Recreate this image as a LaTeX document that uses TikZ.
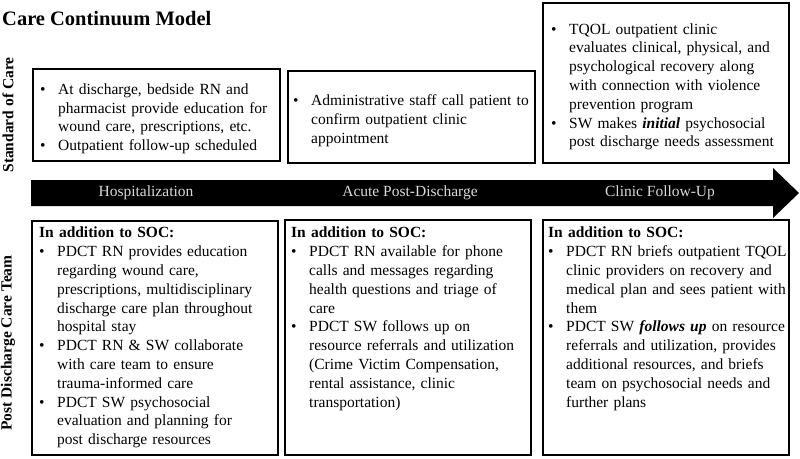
\documentclass[tikz,border=0pt]{standalone}
\usepackage{fontspec}
\setmainfont{Liberation Serif}
\usepackage{tikz}
\usetikzlibrary{positioning}

\newcommand{\bitem}{\par\hangindent=18pt\hangafter=1\noindent\hbox to 18pt{\textbullet\hss}}

\tikzset{
    panel/.style={draw, line width=1.6pt, fill=white, inner sep=0pt},
    itemtext/.style={align=left, text width=250pt, inner sep=0pt,
        font=\fontsize{15.5}{18.8}\selectfont},
    sidelabel/.style={rotate=90, font=\fontsize{15.5}{18}\selectfont\bfseries},
    phase/.style={text=white!85!black, font=\fontsize{15.5}{18}\selectfont}
}

\begin{document}
\begin{tikzpicture}[x=1pt, y=-1pt]

    \useasboundingbox[fill=white] (0,0) rectangle (800,458);

    % Title and row labels
    \node[anchor=base west, inner sep=0pt, font=\fontsize{20.5}{24}\selectfont\bfseries] (title) at (2,25) {Care Continuum Model};
    \node[sidelabel] (socLabel) at (8,115) {Standard of Care};
    \node[sidelabel] (pdctLabel) at (8,343) {Post Discharge Care Team};

    % Timeline arrow
    \fill[black] (31,180) -- (773,180) -- (773,168) -- (799,193)
        -- (773,218) -- (773,206) -- (31,206) -- cycle;
    \node[phase] (hosp) at (146,193) {Hospitalization};
    \node[phase] (acute) at (410,193) {Acute Post-Discharge};
    \node[phase] (clinic) at (660,193) {Clinic Follow-Up};

    % Standard of care
    \node[panel, anchor=north west, minimum width=247pt, minimum height=92pt] (socHosp) at (32,68) {};
    \node[panel, anchor=north west, minimum width=247pt, minimum height=92pt] (socAcute) at (287,70) {};
    \node[panel, anchor=north west, minimum width=246pt, minimum height=160pt] (socClinic) at (542,2) {};

    \node[itemtext, anchor=west] (socHospText) at ([xshift=8pt]socHosp.west) {%
        \bitem At discharge, bedside RN and\newline pharmacist provide education for\newline wound care, prescriptions, etc.
        \bitem Outpatient follow-up scheduled\par};
    \node[itemtext, anchor=west] (socAcuteText) at ([xshift=6pt]socAcute.west) {%
        \bitem Administrative staff call patient to\newline confirm outpatient clinic\newline appointment\par};
    \node[itemtext, anchor=west] (socClinicText) at ([xshift=9pt]socClinic.west) {%
        \bitem TQOL outpatient clinic\newline evaluates clinical, physical, and\newline psychological recovery along\newline with connection with violence\newline prevention program
        \bitem SW makes \textbf{\textit{initial}} psychosocial\newline post discharge needs assessment\par};

    % Post discharge care team
    \node[panel, anchor=north west, minimum width=246pt, minimum height=234pt] (pdctHosp) at (31,220) {};
    \node[panel, anchor=north west, minimum width=246pt, minimum height=235pt] (pdctAcute) at (284,219) {};
    \node[panel, anchor=north west, minimum width=246pt, minimum height=235pt] (pdctClinic) at (542,219) {};

    \node[itemtext, anchor=north west] (pdctHospText) at ([xshift=8pt, yshift=-7pt]pdctHosp.north west) {%
        \textbf{In addition to SOC:}
        \bitem PDCT RN provides education\newline regarding wound care,\newline prescriptions, multidisciplinary\newline discharge care plan throughout\newline hospital stay
        \bitem PDCT RN \& SW collaborate\newline with care team to ensure\newline trauma-informed care
        \bitem PDCT SW psychosocial\newline evaluation and planning for\newline post discharge resources\par};
    \node[itemtext, anchor=north west] (pdctAcuteText) at ([xshift=7pt, yshift=-8pt]pdctAcute.north west) {%
        \textbf{In addition to SOC:}
        \bitem PDCT RN available for phone\newline calls and messages regarding\newline health questions and triage of\newline care
        \bitem PDCT SW follows up on\newline resource referrals and utilization\newline (Crime Victim Compensation,\newline rental assistance, clinic\newline transportation)\par};
    \node[itemtext, anchor=north west] (pdctClinicText) at ([xshift=6pt, yshift=-8pt]pdctClinic.north west) {%
        \textbf{In addition to SOC:}
        \bitem PDCT RN briefs outpatient TQOL\newline clinic providers on recovery and\newline medical plan and sees patient with\newline them
        \bitem PDCT SW \textbf{\textit{follows up}} on resource\newline referrals and utilization, provides\newline additional resources, and briefs\newline team on psychosocial needs and\newline further plans\par};

\end{tikzpicture}
\end{document}
